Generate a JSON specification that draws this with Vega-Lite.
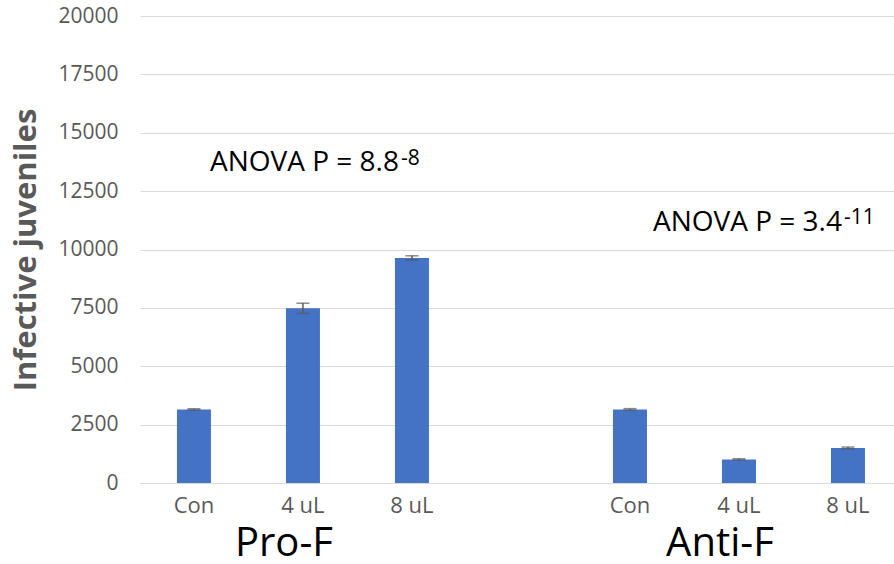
{
  "$schema": "https://vega.github.io/schema/vega-lite/v6.json",
  "width": 754,
  "height": 467,
  "autosize": {"type": "none"},
  "padding": {"left": 140, "top": 16, "right": 0, "bottom": 81},
  "background": "white",
  "config": {
    "view": {"stroke": null},
    "font": "Open Sans",
    "text": {"font": "Open Sans", "color": "#000000"}
  },
  "datasets": {
    "bars": [
      {"id": "Pro-F|Con", "value": 3150, "err": 30},
      {"id": "Pro-F|4 uL", "value": 7480, "err": 220},
      {"id": "Pro-F|8 uL", "value": 9640, "err": 90},
      {"id": "Anti-F|Con", "value": 3150, "err": 35},
      {"id": "Anti-F|4 uL", "value": 1010, "err": 30},
      {"id": "Anti-F|8 uL", "value": 1500, "err": 40}
    ],
    "groups": [
      {"id": "Pro-F|4 uL", "label": "Pro-F"},
      {"id": "Anti-F|4 uL", "label": "Anti-F"}
    ]
  },
  "encoding": {
    "x": {
      "field": "id",
      "type": "nominal",
      "scale": {
        "domain": ["Pro-F|Con", "Pro-F|4 uL", "Pro-F|8 uL", "gap", "Anti-F|Con", "Anti-F|4 uL", "Anti-F|8 uL"],
        "paddingInner": 0.688,
        "paddingOuter": 0.3026,
        "align": 0.56
      },
      "sort": null,
      "axis": {
        "title": null,
        "labelAngle": 0,
        "labelExpr": "indexof(datum.value, '|') >= 0 ? split(datum.value, '|')[1] : ''",
        "labelFont": "Open Sans",
        "labelFontSize": 22,
        "labelColor": "#595959",
        "labelPadding": 12,
        "ticks": false,
        "domainColor": "#d9d9d9",
        "domainWidth": 1
      }
    }
  },
  "layer": [
    {
      "data": {"name": "bars"},
      "mark": {"type": "bar", "color": "#4472C4"},
      "encoding": {
        "y": {
          "field": "value",
          "type": "quantitative",
          "title": "Infective juveniles",
          "scale": {"domain": [0, 20000], "nice": false},
          "axis": {
            "values": [0, 2500, 5000, 7500, 10000, 12500, 15000, 17500, 20000],
            "format": "d",
            "labelFont": "Open Sans",
            "labelFontSize": 21,
            "labelColor": "#595959",
            "labelPadding": 22,
            "ticks": false,
            "domain": false,
            "gridColor": "#d9d9d9",
            "gridWidth": 1,
            "titleFont": "Open Sans",
            "titleFontSize": 31,
            "titleFontWeight": "bold",
            "titleColor": "#595959",
            "titlePadding": 15
          }
        }
      }
    },
    {
      "data": {"name": "bars"},
      "mark": {"type": "errorbar", "ticks": {"size": 13}, "color": "#595959", "thickness": 1.5},
      "encoding": {
        "y": {"field": "value", "type": "quantitative", "title": "Infective juveniles"},
        "yError": {"field": "err"}
      }
    },
    {
      "data": {"name": "groups"},
      "mark": {"type": "text", "fontSize": 40, "dx": -19, "dy": 73, "baseline": "alphabetic", "align": "center"},
      "encoding": {
        "y": {"datum": 0, "type": "quantitative"},
        "text": {"field": "label"}
      }
    },
    {
      "data": {"values": [{"id": "Pro-F|4 uL", "y": 13360, "text": "ANOVA P = 8.8"}]},
      "mark": {"type": "text", "fontSize": 28, "dx": -93, "align": "left", "baseline": "alphabetic"},
      "encoding": {
        "y": {"field": "y", "type": "quantitative"},
        "text": {"field": "text"}
      }
    },
    {
      "data": {"values": [{"id": "Pro-F|4 uL", "y": 13640, "text": "-8"}]},
      "mark": {"type": "text", "fontSize": 21, "dx": 98, "align": "left", "baseline": "alphabetic"},
      "encoding": {
        "y": {"field": "y", "type": "quantitative"},
        "text": {"field": "text"}
      }
    },
    {
      "data": {"values": [{"id": "Anti-F|4 uL", "y": 10780, "text": "ANOVA P = 3.4"}]},
      "mark": {"type": "text", "fontSize": 28, "dx": -86, "align": "left", "baseline": "alphabetic"},
      "encoding": {
        "y": {"field": "y", "type": "quantitative"},
        "text": {"field": "text"}
      }
    },
    {
      "data": {"values": [{"id": "Anti-F|4 uL", "y": 11080, "text": "-11"}]},
      "mark": {"type": "text", "fontSize": 21, "dx": 105, "align": "left", "baseline": "alphabetic"},
      "encoding": {
        "y": {"field": "y", "type": "quantitative"},
        "text": {"field": "text"}
      }
    }
  ]
}
